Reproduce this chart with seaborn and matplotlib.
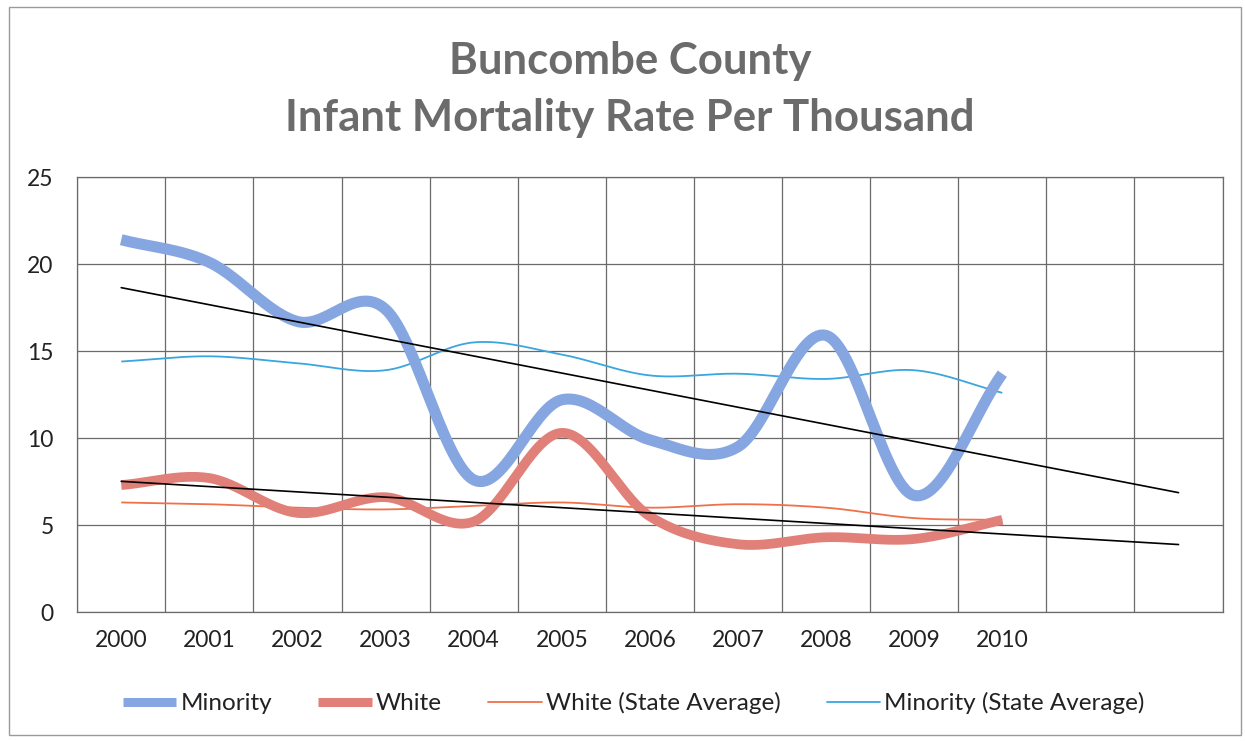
import numpy as np
import pandas as pd
import matplotlib
matplotlib.use("Agg")
import matplotlib.pyplot as plt
from matplotlib.lines import Line2D
from matplotlib.patches import Rectangle
import seaborn as sns

# Infant mortality per 1,000 live births, Buncombe County vs. NC state averages
years = ["2000", "2001", "2002", "2003", "2004", "2005",
         "2006", "2007", "2008", "2009", "2010"]
minority = [21.4, 20.1, 16.7, 17.4, 7.6, 12.2, 9.9, 9.5, 15.9, 6.7, 13.7]
white = [7.3, 7.7, 5.7, 6.6, 5.2, 10.3, 5.5, 3.9, 4.3, 4.2, 5.3]
white_state = [6.3, 6.2, 6.0, 5.9, 6.1, 6.3, 6.0, 6.2, 6.0, 5.4, 5.3]
minority_state = [14.4, 14.7, 14.3, 13.9, 15.5, 14.8, 13.6, 13.7, 13.4, 13.9, 12.6]
n_slots = 13          # category slots on the axis (two left empty)
y_ticks = [0, 5, 10, 15, 20, 25]

sns.set_theme(style="white")
plt.rcParams["font.family"] = ["Lato", "DejaVu Sans"]


def smooth(values, steps=30):
    """Catmull-Rom curve through the points, like a spreadsheet's smoothed line."""
    y = np.asarray(values, dtype=float)
    x = np.arange(len(y), dtype=float)
    px = np.concatenate([[2 * x[0] - x[1]], x, [2 * x[-1] - x[-2]]])
    py = np.concatenate([[2 * y[0] - y[1]], y, [2 * y[-1] - y[-2]]])
    xs, ys = [], []
    t = np.linspace(0, 1, steps, endpoint=False)
    for i in range(1, len(px) - 2):
        for arr, out in ((px, xs), (py, ys)):
            p0, p1, p2, p3 = arr[i - 1], arr[i], arr[i + 1], arr[i + 2]
            out.append(0.5 * ((2 * p1) + (-p0 + p2) * t
                              + (2 * p0 - 5 * p1 + 4 * p2 - p3) * t ** 2
                              + (-p0 + 3 * p1 - 3 * p2 + p3) * t ** 3))
    xs.append([x[-1]]); ys.append([y[-1]])
    return np.concatenate(xs), np.concatenate(ys)


def trend(values):
    x = np.arange(len(values))
    slope, icpt = np.polyfit(x, values, 1)
    xt = np.array([0, n_slots - 1], dtype=float)
    return xt, slope * xt + icpt


fig = plt.figure(figsize=(12.45, 7.41), dpi=100)
ax = fig.add_axes([0.062, 0.174, 0.920, 0.587])

series = [
    ("Minority (State Average)", minority_state, "#3aa6e0", 1.3),
    ("White (State Average)", white_state, "#f0704a", 1.3),
    ("Minority", minority, "#86a6e2", 8.0),
    ("White", white, "#e08078", 7.0),
]
for name, vals, col, lw in series:
    sx, sy = smooth(vals)
    df = pd.DataFrame({"x": sx, "y": sy})
    sns.lineplot(data=df, x="x", y="y", ax=ax, color=col, lw=lw,
                 sort=False, estimator=None, solid_capstyle="butt", zorder=3)

# linear trendlines for the county series
for vals in (minority, white):
    tx, ty = trend(vals)
    sns.lineplot(x=tx, y=ty, ax=ax, color="black", lw=1.2, zorder=4)

ax.set_xlim(-0.5, n_slots - 0.5)
ax.set_ylim(0, 25)
ax.set_xticks(range(len(years)))
ax.set_xticklabels(years)
ax.set_yticks(y_ticks)
ax.set_xlabel("")
ax.set_ylabel("")
ax.grid(False)
for xv in np.arange(-0.5, n_slots):
    ax.axvline(xv, color="#6a6a6a", lw=0.9, zorder=1)
for yv in y_ticks:
    ax.axhline(yv, color="#6a6a6a", lw=0.9, zorder=1)
for sp in ax.spines.values():
    sp.set_color("#6a6a6a")
    sp.set_linewidth(0.9)
ax.tick_params(axis="both", which="both", length=0, labelsize=16.5,
               labelcolor="#222222")
ax.tick_params(axis="y", pad=17)
ax.tick_params(axis="x", pad=13)

fig.text(0.506, 0.879, "Buncombe County\nInfant Mortality Rate Per Thousand",
         ha="center", va="center", fontsize=31.5, fontweight="bold",
         color="#6b6b6b", linespacing=1.5)

handles = [
    Line2D([0], [0], color="#86a6e2", lw=6.5, solid_capstyle="butt"),
    Line2D([0], [0], color="#e08078", lw=6.5, solid_capstyle="butt"),
    Line2D([0], [0], color="#f0704a", lw=1.3),
    Line2D([0], [0], color="#3aa6e0", lw=1.3),
]
labels = ["Minority", "White", "White (State Average)", "Minority (State Average)"]
fig.legend(handles, labels, loc="center", bbox_to_anchor=(0.509, 0.051),
           ncol=4, frameon=False, fontsize=17.5, handlelength=2.2,
           handletextpad=0.17, columnspacing=1.9, labelcolor="#222222")

fig.patches.append(Rectangle((0.007, 0.008), 0.99, 0.982, transform=fig.transFigure,
                             fill=False, edgecolor="#9a9a9a", lw=1.0))

fig.savefig("out.png", dpi=100, facecolor="white")
